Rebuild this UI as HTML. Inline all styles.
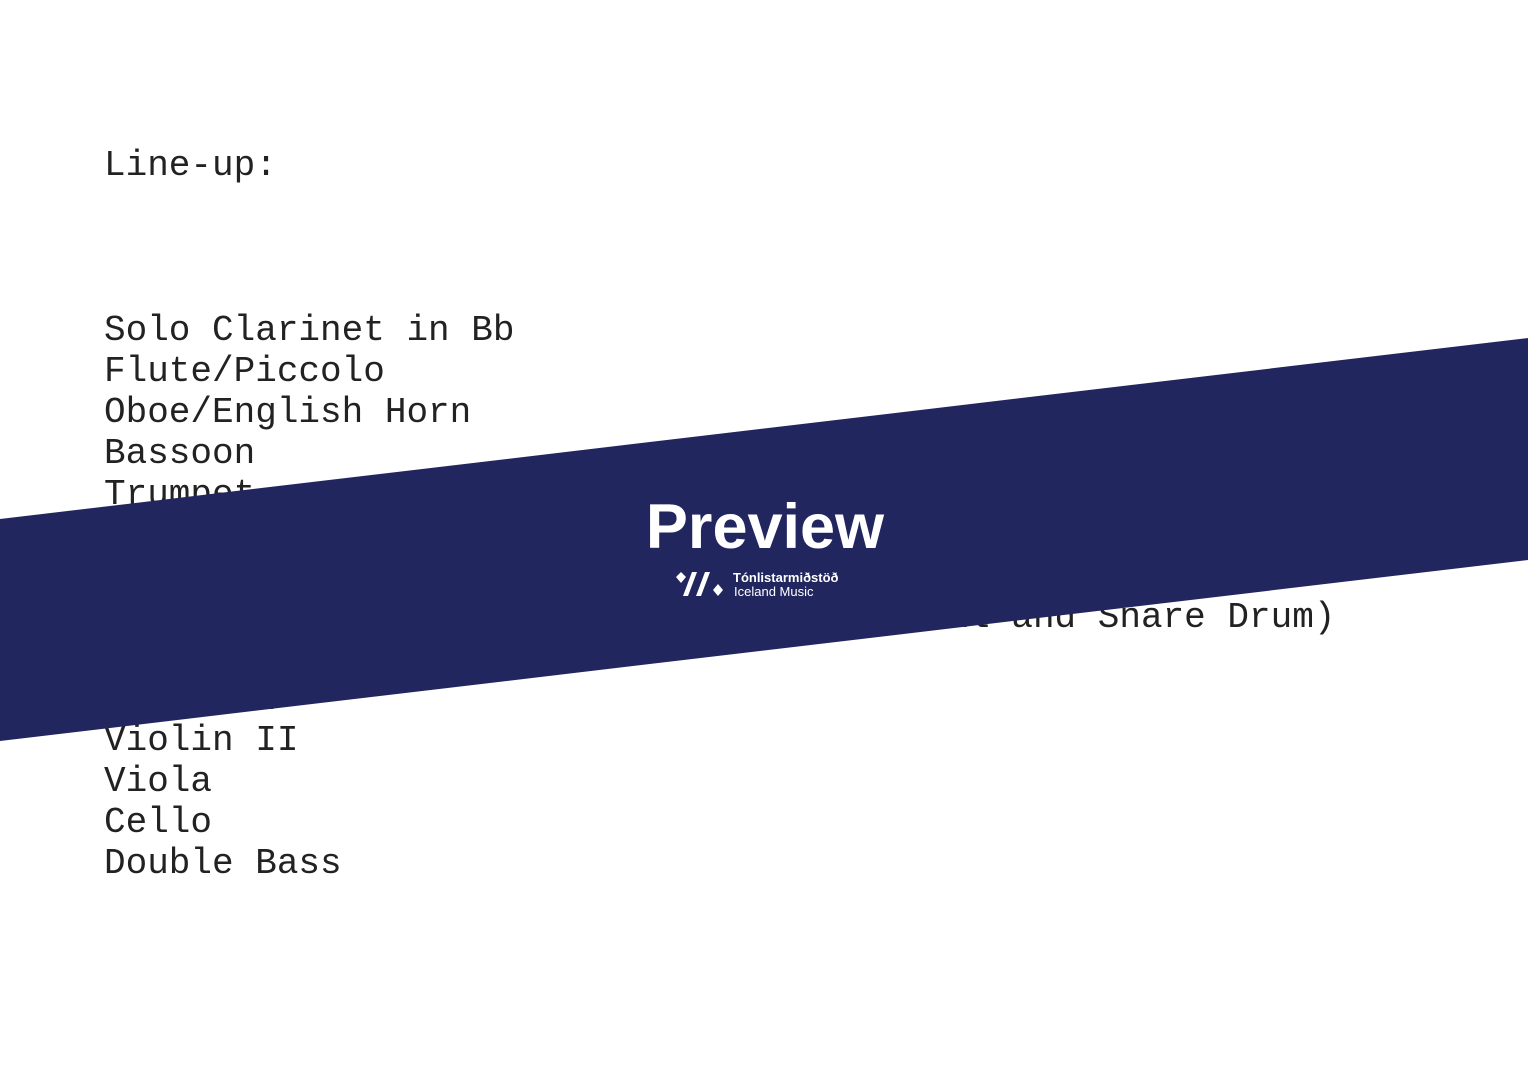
<!DOCTYPE html>
<html><head><meta charset="utf-8"><style>
html,body{margin:0;padding:0;background:#fff;}
body{width:1528px;height:1080px;position:relative;overflow:hidden;}
.t{position:absolute;left:104px;font-family:"Liberation Mono",monospace;font-size:36px;color:#222;line-height:41px;white-space:pre;}
</style></head><body>
<div class="t" style="top:145px">Line-up:</div>
<div class="t" style="top:310px">Solo Clarinet in Bb
Flute/Piccolo
Oboe/English Horn
Bassoon
Trumpet
Horn in F
Trombone
Percussion I (Bass Drum, Suspended Cymbal and Snare Drum)
Harp
Violin I
Violin II
Viola
Cello
Double Bass</div>
<svg width="1528" height="1080" style="position:absolute;left:0;top:0">
<polygon points="0,519 1528,338 1528,560 0,741" fill="#22265f"/>
<text x="765" y="548" text-anchor="middle" font-family="Liberation Sans, sans-serif" font-weight="bold" font-size="63" fill="#fff">Preview</text>
<g fill="#fff">
<polygon points="681,572 686,577 681,583 676,577"/>
<polygon points="692,572 697,572 688,596 683,596"/>
<polygon points="705,572 710,572 701,596 696,596"/>
<polygon points="718,584 723,590 718,596 713,590"/>
</g>
<text x="733" y="582" font-family="Liberation Sans, sans-serif" font-weight="bold" font-size="13" fill="#fff">Tónlistarmiðstöð</text>
<text x="734" y="596" font-family="Liberation Sans, sans-serif" font-size="13" fill="#fff">Iceland Music</text>
</svg>
</body></html>
